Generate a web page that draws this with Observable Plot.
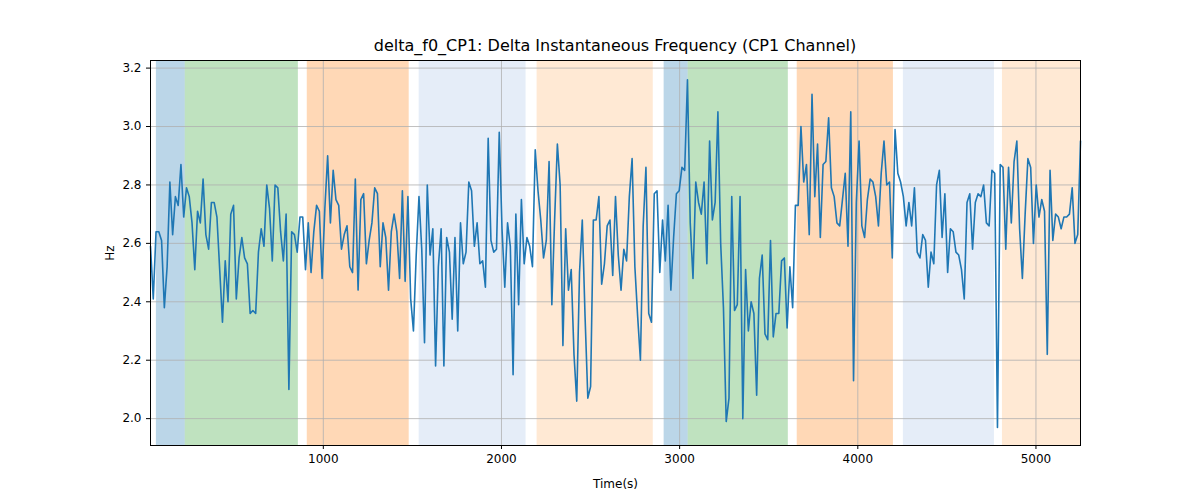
<!DOCTYPE html>
<html><head><meta charset="utf-8">
<script src="https://cdn.jsdelivr.net/npm/d3@7"></script>
<script src="https://cdn.jsdelivr.net/npm/@observablehq/plot@0.6"></script>
<style>body{margin:0;background:#fff;font-family:"DejaVu Sans",sans-serif}
#t{height:55px;width:1200px;position:relative}
#t span{position:absolute;left:150px;width:930px;text-align:center;top:36px;font-size:16px}
</style></head><body>
<div id="t"><span>delta_f0_CP1: Delta Instantaneous Frequency (CP1 Channel)</span></div>
<div id="c"></div>
<script>
const tStart = 30, tEnd = 5250;
const values = [2.59,2.41,2.64,2.64,2.61,2.38,2.52,2.81,2.63,2.76,2.73,2.87,2.69,2.79,2.76,2.67,2.51,2.71,2.67,2.82,2.63,2.58,2.74,2.74,2.69,2.51,2.33,2.54,2.40,2.70,2.73,2.41,2.55,2.62,2.55,2.53,2.36,2.37,2.36,2.57,2.65,2.59,2.80,2.72,2.54,2.80,2.79,2.64,2.54,2.70,2.10,2.64,2.63,2.57,2.69,2.69,2.51,2.67,2.50,2.64,2.73,2.71,2.48,2.72,2.90,2.67,2.85,2.75,2.73,2.58,
2.63,2.66,2.52,2.50,2.82,2.44,2.75,2.77,2.53,2.61,2.67,2.79,2.77,2.52,2.67,2.62,2.44,2.64,2.70,2.64,2.48,2.78,2.47,2.76,2.41,2.30,2.56,2.76,2.58,2.26,2.80,2.56,2.65,2.18,2.52,2.65,2.18,2.62,2.57,2.34,2.62,2.30,2.67,2.53,2.57,2.81,2.78,2.59,2.67,2.53,2.54,2.45,2.96,2.61,2.57,2.58,2.98,2.65,2.45,2.67,2.59,2.15,2.70,2.39,2.75,2.53,
2.62,2.59,2.52,2.92,2.78,2.68,2.55,2.61,2.88,2.39,2.68,2.94,2.80,2.25,2.65,2.44,2.51,2.22,2.06,2.50,2.68,2.35,2.07,2.11,2.68,2.68,2.76,2.46,2.53,2.66,2.68,2.49,2.76,2.56,2.44,2.58,2.54,2.76,2.89,2.52,2.35,2.20,2.66,2.86,2.36,2.33,2.77,2.78,2.50,2.68,2.54,2.73,2.44,2.62,2.77,2.78,2.86,2.85,3.16,2.67,2.48,2.81,2.74,2.70,2.81,
2.53,2.95,2.68,2.74,3.05,2.60,2.38,1.99,2.07,2.76,2.37,2.39,2.76,2.00,2.51,2.30,2.40,2.36,2.08,2.48,2.56,2.29,2.27,2.61,2.28,2.36,2.36,2.54,2.55,2.31,2.52,2.38,2.73,2.73,3.00,2.81,2.87,2.63,3.11,2.76,2.94,2.62,2.87,2.88,3.03,2.79,2.76,2.67,2.66,2.75,2.84,2.59,3.05,2.13,2.74,2.95,2.66,2.62,2.75,2.82,2.81,2.76,2.66,2.84,2.95,2.80,2.81,2.55,2.99,2.84,2.81,
2.76,2.66,2.74,2.66,2.79,2.57,2.55,2.63,2.61,2.45,2.57,2.53,2.80,2.85,2.62,2.77,2.50,2.65,2.64,2.57,2.56,2.51,2.41,2.74,2.77,2.58,2.74,2.77,2.76,2.80,2.67,2.66,2.85,2.84,1.97,2.87,2.86,2.58,2.86,2.67,2.88,2.95,2.65,2.48,2.70,2.89,2.86,2.60,2.80,2.69,2.75,2.71,2.22,2.85,2.61,2.70,2.69,2.65,2.69,2.69,2.70,2.79,2.60,2.63,2.95];
const dt = (tEnd - tStart) / (values.length - 1);
const data = values.map((v, i) => ({t: tStart + i * dt, v}));
const spanStart = [63, 225, 910, 1538, 2200, 2913, 3048, 3660, 4256, 4812];
const spanEnd   = [225, 860, 1482, 2138, 2852, 3048, 3610, 4200, 4767, 5250];
const spanColor = ["#1f77b4","#2ca02c","#ff7f0e","#aec7e8","#ffbb78","#1f77b4","#2ca02c","#ff7f0e","#aec7e8","#ffbb78"];
const spans = spanStart.map((s, i) => ({x1: s, x2: spanEnd[i], c: spanColor[i]}));
const xTicks = [1000, 2000, 3000, 4000, 5000];
const yTicks = [2.0, 2.2, 2.4, 2.6, 2.8, 3.0, 3.2];
const chart = Plot.plot({
  width: 1200, height: 445,
  marginLeft: 150, marginRight: 120, marginTop: 5, marginBottom: 55,
  style: {fontFamily: "DejaVu Sans", fontSize: "12px", color: "#000"},
  x: {domain: [tStart, tEnd], ticks: xTicks, tickFormat: d => String(d), label: "Time(s)", labelAnchor: "center", labelOffset: 42},
  y: {domain: [1.908, 3.226], ticks: yTicks, tickFormat: d3.format(".1f"), label: "Hz", labelAnchor: "center", labelOffset: 45},
  marks: [
    Plot.rectX(spans, {x1: "x1", x2: "x2", y1: 1.908, y2: 3.226, fill: d => d.c, fillOpacity: d => (d.c === "#aec7e8" || d.c === "#ffbb78") ? 0.32 : 0.3}),
    Plot.gridX(xTicks, {stroke: "#b0b0b0", strokeOpacity: 1, strokeWidth: 0.8}),
    Plot.gridY(yTicks, {stroke: "#b0b0b0", strokeOpacity: 1, strokeWidth: 0.8}),
    Plot.line(data, {x: "t", y: "v", stroke: "#1f77b4", strokeWidth: 1.6}),
    Plot.frame({stroke: "#000"}),
    Plot.axisX({ticks: xTicks, tickFormat: d => String(d), tickSize: 4, label: "Time(s)", labelAnchor: "center", labelArrow: "none", labelOffset: 42}),
    Plot.axisY({ticks: yTicks, tickFormat: d3.format(".1f"), tickSize: 4, label: "Hz", labelAnchor: "center", labelArrow: "none", labelOffset: 45})
  ]
});
document.getElementById("c").appendChild(chart);
</script></body></html>
